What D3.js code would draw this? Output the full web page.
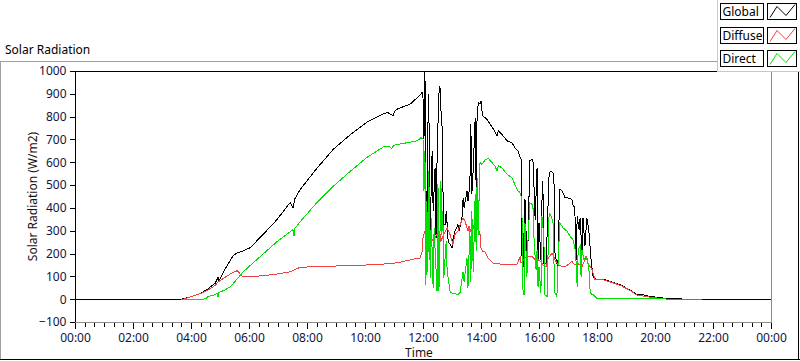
<!DOCTYPE html>
<html lang="en">
<head>
<meta charset="UTF-8">
<title>Solar Radiation</title>
<script src="https://cdn.jsdelivr.net/npm/d3@7"></script>
<style>
  body { margin: 0; background: #fff; }
  svg text { font-family: "Noto Sans", "DejaVu Sans", sans-serif; }
</style>
</head>
<body>
<svg width="800" height="361"></svg>
<script>
// time in minutes since midnight, values in W/m2
var globalPts = [
  [0,0],[220,0],[238,10],[259,25],[275,45],[290,70],[296,95],[298,80],[310,130],[327,190],[333,200],[346,210],
  [362,225],[389,283],[418,349],[445,423],[451,400],[455,440],[466,481],[499,570],[534,656],[569,720],[604,776],
  [631,805],[646,819],[652,812],[658,805],[662,825],[668,835],[693,854],[709,885],[716,900],[718,906],[720,880],
  [722,700],[724,1000],[726,500],[728,283],[730,752],[732,899],[733,600],[735,254],[737,500],[739,650],[741,385],
  [743,480],[745,576],[747,268],[749,600],[751,767],[753,900],[755,936],[757,826],[759,811],[761,503],[763,327],
  [766,327],[768,385],[770,327],[772,254],[776,240],[780,224],[782,261],[786,298],[790,312],[792,327],[795,298],
  [801,364],[803,444],[805,400],[811,474],[813,430],[817,503],[819,767],[821,459],[824,576],[828,796],[830,474],
  [832,826],[835,862],[838,855],[840,870],[842,826],[844,804],[848,796],[852,789],[859,767],[866,745],[873,716],
  [876,738],[883,723],[894,694],[904,686],[910,664],[917,649],[921,621],[923,613],[925,158],[927,143],[931,437],
  [935,173],[937,232],[941,606],[946,613],[948,598],[952,349],[956,576],[958,173],[960,334],[964,173],[966,422],
  [968,518],[970,158],[975,158],[977,305],[981,554],[985,562],[989,554],[991,518],[993,202],[997,158],[999,143],
  [1003,481],[1008,474],[1014,444],[1020,444],[1028,437],[1030,415],[1034,400],[1037,173],[1039,364],[1043,305],
  [1045,356],[1049,202],[1051,356],[1055,232],[1059,356],[1063,305],[1068,165],[1072,99],[1080,85],[1092,88],
  [1107,78],[1128,63],[1148,41],[1163,19],[1175,19],[1190,12],[1217,5],[1262,0],[1440,0]
];

var diffusePts = [
  [225,0],[238,9],[259,24],[275,40],[290,60],[296,75],[310,95],[327,118],[336,125],[346,100],[362,98],
  [389,103],[418,110],[445,120],[466,140],[534,145],[604,150],[646,155],[668,160],[693,172],[708,180],[714,180],
  [718,209],[720,268],[724,298],[728,261],[730,298],[733,268],[739,261],[741,254],[749,283],[751,298],[755,290],
  [757,254],[766,298],[770,312],[776,283],[780,254],[782,239],[786,283],[792,298],[801,349],[803,356],[807,342],
  [813,298],[815,320],[821,283],[824,312],[828,349],[830,327],[834,312],[838,283],[840,224],[844,209],[848,209],
  [855,180],[865,158],[879,154],[894,154],[906,151],[914,151],[917,165],[921,187],[923,158],[931,180],[937,187],
  [946,187],[952,173],[958,173],[964,165],[968,151],[975,143],[979,180],[987,202],[993,173],[999,151],[1008,143],
  [1014,143],[1020,151],[1028,165],[1034,151],[1039,158],[1049,143],[1055,173],[1059,187],[1061,158],[1070,129],
  [1076,85],[1082,84],[1092,86],[1107,76],[1128,61],[1148,39],[1163,17],[1175,14],[1190,9],[1217,2],[1237,-3],
  [1297,-3]
];

var directPts = [
  [220,0],[265,0],[272,5],[275,12],[290,20],[294,25],[296,10],[298,30],[310,40],[322,55],[348,120],
  [383,186],[418,252],[451,305],[453,275],[455,310],[466,340],[499,420],[534,494],[569,560],[604,621],[640,670],
  [651,668],[655,660],[660,675],[693,688],[708,694],[716,708],[720,701],[722,474],[724,650],[726,63],[728,430],
  [730,121],[732,562],[735,92],[737,356],[741,48],[743,312],[749,34],[751,503],[753,34],[757,518],[759,283],
  [761,385],[763,92],[768,254],[770,121],[776,34],[780,26],[786,26],[792,19],[797,31],[799,63],[803,121],[805,77],
  [811,180],[813,48],[817,312],[819,77],[821,385],[824,121],[828,459],[830,209],[832,532],[834,283],[838,598],
  [842,591],[848,609],[855,617],[863,598],[869,584],[873,562],[876,584],[883,576],[894,547],[904,532],[910,503],
  [917,474],[919,474],[923,452],[925,349],[927,26],[929,19],[931,334],[935,99],[937,246],[941,422],[946,415],
  [948,393],[950,246],[954,129],[956,217],[958,55],[960,143],[964,26],[966,364],[970,276],[972,19],[977,12],
  [979,232],[981,378],[985,364],[989,334],[991,158],[993,26],[997,12],[999,129],[1003,334],[1010,312],[1018,298],
  [1024,276],[1030,261],[1034,232],[1037,158],[1039,55],[1041,217],[1045,232],[1047,99],[1049,217],[1053,173],
  [1057,187],[1059,173],[1063,143],[1066,26],[1072,19],[1080,4],[1150,3],[1217,2],[1220,1]
];

var seriesNames = ["Global", "Diffuse", "Direct"];
var seriesColors = ["#000000", "#f04040", "#00e000"];
var yTicks = [-100, 0, 100, 200, 300, 400, 500, 600, 700, 800, 900, 1000];
var xTickLabels = ["00:00","02:00","04:00","06:00","08:00","10:00","12:00","14:00","16:00","18:00","20:00","22:00","00:00"];

var svg = d3.select("svg");
var plotL = 75, plotR = 771, plotT = 71, plotB = 322;

var x = d3.scaleLinear().domain([0, 1440]).range([plotL, plotR]);
var y = d3.scaleLinear().domain([-100, 1000]).range([plotB, plotT]);

// outer panel frame
svg.append("line").attr("x1", 0.5).attr("x2", 0.5).attr("y1", 61).attr("y2", 359).attr("stroke", "#a0a0a0");
svg.append("line").attr("x1", 0).attr("x2", 717).attr("y1", 61.5).attr("y2", 61.5).attr("stroke", "#a0a0a0");
svg.append("line").attr("x1", 0).attr("x2", 800).attr("y1", 359.5).attr("y2", 359.5).attr("stroke", "#000");
svg.append("line").attr("x1", 798.5).attr("x2", 798.5).attr("y1", 70).attr("y2", 360).attr("stroke", "#000");

svg.append("text").attr("x", 5).attr("y", 54).attr("font-size", 12).attr("fill", "#000").text("Solar Radiation");

// clip for plot
svg.append("clipPath").attr("id", "plotclip")
    .append("rect").attr("x", plotL).attr("y", plotT).attr("width", plotR - plotL).attr("height", plotB - plotT);

var line = d3.line()
    .x(function(d){ return x(d[0]); })
    .y(function(d){ return y(d[1]); });

var plot = svg.append("g").attr("clip-path", "url(#plotclip)");
[globalPts, diffusePts, directPts].forEach(function(pts, i) {
    plot.append("path")
        .datum(pts)
        .attr("d", line)
        .attr("fill", "none")
        .attr("stroke", seriesColors[i])
        .attr("stroke-width", 1)
        .attr("shape-rendering", "crispEdges");
});

// plot frame: top/left black, right/bottom gray
svg.append("line").attr("x1", plotL).attr("x2", plotR).attr("y1", plotT + 0.5).attr("y2", plotT + 0.5).attr("stroke", "#000");
svg.append("line").attr("x1", plotL + 0.5).attr("x2", plotL + 0.5).attr("y1", plotT).attr("y2", plotB + 2).attr("stroke", "#000");
svg.append("line").attr("x1", plotR + 0.5).attr("x2", plotR + 0.5).attr("y1", plotT).attr("y2", plotB + 1).attr("stroke", "#8c8c8c");
svg.append("line").attr("x1", plotL).attr("x2", plotR + 1).attr("y1", plotB + 0.5).attr("y2", plotB + 0.5).attr("stroke", "#8c8c8c");

// y axis
var yAxis = d3.axisLeft(y).tickValues(yTicks).tickSize(5).tickPadding(3).tickFormat(d3.format("d"));
var gy = svg.append("g").attr("transform", "translate(" + (plotL - 0.5) + ",0)").call(yAxis);
gy.select(".domain").remove();
gy.selectAll("line").attr("stroke", "#000").attr("shape-rendering", "crispEdges");
gy.selectAll("text").attr("font-size", 12).attr("fill", "#14143c").attr("font-family", "Noto Sans");

// x axis, major every 2h, minor every 20 min
var majors = d3.range(0, 1441, 120);
var minors = d3.range(0, 1441, 20).filter(function(m){ return m % 120 !== 0; });
var xAxis = d3.axisBottom(x).tickValues(majors).tickSize(6).tickPadding(4)
    .tickFormat(function(d, i){ return xTickLabels[i]; });
var gx = svg.append("g").attr("transform", "translate(0," + (plotB + 1) + ")").call(xAxis);
gx.select(".domain").remove();
gx.selectAll("line").attr("stroke", "#000").attr("shape-rendering", "crispEdges");
gx.selectAll("text").attr("font-size", 12).attr("fill", "#14143c").attr("font-family", "Noto Sans");
gx.selectAll(".minor").data(minors).enter().append("line")
    .attr("x1", function(d){ return Math.round(x(d)) + 0.5; })
    .attr("x2", function(d){ return Math.round(x(d)) + 0.5; })
    .attr("y1", 0).attr("y2", 4).attr("stroke", "#000");

// axis titles
svg.append("text").attr("transform", "translate(37," + ((plotT + plotB) / 2) + ") rotate(-90)")
    .attr("text-anchor", "middle").attr("font-size", 12).attr("fill", "#1a1010")
    .text("Solar Radiation (W/m2)");
svg.append("text").attr("x", 419).attr("y", 357).attr("text-anchor", "middle")
    .attr("font-size", 12).attr("fill", "#1a1010").text("Time");

// legend
var legend = svg.append("g");
legend.append("rect").attr("x", 717.5).attr("y", -1).attr("width", 84).attr("height", 72.5)
    .attr("fill", "#fff").attr("stroke", "#c8c8c8");
var legendTops = [3.5, 27.5, 50.5];
seriesNames.forEach(function(name, i) {
    var ty = legendTops[i];
    legend.append("rect").attr("x", 720.5).attr("y", ty).attr("width", 43).attr("height", 16)
        .attr("fill", "#fff").attr("stroke", "#000");
    legend.append("text").attr("x", 722.5).attr("y", ty + 12.5).attr("font-size", 12)
        .attr("font-family", "Lato").attr("fill", "#000").text(name);
    legend.append("rect").attr("x", 767.5).attr("y", ty).attr("width", 29).attr("height", 16)
        .attr("fill", "#fff").attr("stroke", "#000");
    legend.append("polyline")
        .attr("points", [[770, ty + 14], [777, ty + 3], [786, ty + 12], [795, ty + 1]].join(" "))
        .attr("fill", "none").attr("stroke", seriesColors[i]);
});
</script>
</body>
</html>
